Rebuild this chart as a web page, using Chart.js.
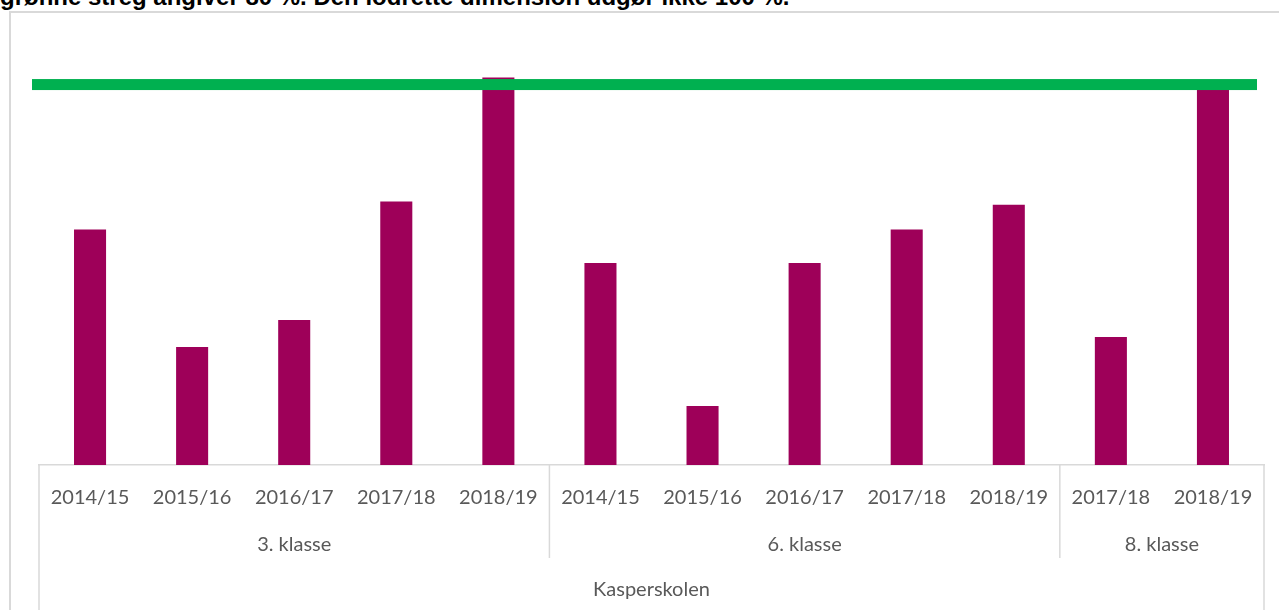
<!DOCTYPE html>
<html>
<head>
<meta charset="utf-8">
<script src="https://cdn.jsdelivr.net/npm/chart.js@4.4.1/dist/chart.umd.min.js"></script>
<style>
  html, body { margin: 0; padding: 0; background: #fff; overflow: hidden; }
  body { width: 1279px; height: 610px; position: relative; }
  #note {
    position: absolute; left: 0; top: -12px;
    font: bold 24px "Liberation Sans", Arial, sans-serif; line-height: 18px;
    color: #000; white-space: nowrap;
  }
  #frame {
    position: absolute; left: 9px; top: 11px; width: 1300px; height: 640px;
    border: 2px solid #d9d9d9; box-sizing: border-box;
  }
  #chart { position: absolute; left: 0; top: 0; }
</style>
</head>
<body>
<div id="frame"></div>
<div id="note">grønne streg angiver 80 %. Den lodrette dimension udgør ikke 100 %.</div>
<canvas id="chart" width="1279" height="610"></canvas>
<script>
const aargange = ['2014/15', '2015/16', '2016/17', '2017/18', '2018/19',
                  '2014/15', '2015/16', '2016/17', '2017/18', '2018/19',
                  '2017/18', '2018/19'];
const andel = [49.5, 24.8, 30.5, 55.4, 81.5, 42.5, 12.4, 42.5, 49.5, 54.7, 26.9, 79.4];
const klasser = ['3. klasse', '6. klasse', '8. klasse'];
const klasseAntal = [5, 5, 2];
const skole = 'Kasperskolen';
const maal = 80;

const tekstFarve = '#595959';
const linjeFarve = '#d9d9d9';

// gruppe-akse under x-aksen (klasse + skole)
const gruppeAkse = {
  id: 'gruppeAkse',
  afterDraw(chart) {
    const { ctx, chartArea, scales: { x } } = chart;
    const step = x.getPixelForValue(1) - x.getPixelForValue(0);
    const bund = chartArea.bottom;
    ctx.save();
    ctx.strokeStyle = linjeFarve;
    ctx.lineWidth = 1.5;
    ctx.fillStyle = tekstFarve;
    ctx.font = '20px Lato';
    ctx.textAlign = 'center';
    ctx.textBaseline = 'middle';

    let start = 0;
    klasser.forEach((navn, i) => {
      const venstre = x.getPixelForValue(start) - step / 2;
      const hoejre = x.getPixelForValue(start + klasseAntal[i] - 1) + step / 2;
      ctx.fillText(navn, (venstre + hoejre) / 2, bund + 80);
      if (i > 0) {
        ctx.beginPath();
        ctx.moveTo(venstre, bund);
        ctx.lineTo(venstre, bund + 93);
        ctx.stroke();
      }
      start += klasseAntal[i];
    });

    const l = x.getPixelForValue(0) - step / 2;
    const r = x.getPixelForValue(aargange.length - 1) + step / 2;
    [l, r].forEach(px => {
      ctx.beginPath();
      ctx.moveTo(px, bund);
      ctx.lineTo(px, chart.height);
      ctx.stroke();
    });
    ctx.fillText(skole, (l + r) / 2, bund + 125);
    ctx.restore();
  }
};

// grøn streg ved 80 %
const maalStreg = {
  id: 'maalStreg',
  afterDatasetsDraw(chart) {
    const { ctx, chartArea, scales: { y } } = chart;
    const py = y.getPixelForValue(maal);
    ctx.save();
    ctx.fillStyle = '#00b050';
    ctx.fillRect(chartArea.left - 7, py - 5.5, chartArea.right - chartArea.left, 11);
    ctx.restore();
  }
};

new Chart(document.getElementById('chart').getContext('2d'), {
  type: 'bar',
  data: {
    labels: aargange,
    datasets: [{
      data: andel,
      backgroundColor: '#9e0059',
      categoryPercentage: 1,
      barPercentage: 0.314
    }]
  },
  options: {
    responsive: false,
    animation: false,
    devicePixelRatio: 1,
    layout: { padding: { left: 39, right: 15, top: 37, bottom: 0 } },
    plugins: { legend: { display: false }, tooltip: { enabled: false } },
    scales: {
      x: {
        grid: { display: false },
        border: { display: true, color: linjeFarve, width: 1.5 },
        ticks: {
          color: tekstFarve, font: { family: 'Lato', size: 20 },
          padding: 13, maxRotation: 0, autoSkip: false
        },
        afterFit(scale) { scale.height = 145; }
      },
      y: { display: false, min: 0, max: 90 }
    }
  },
  plugins: [maalStreg, gruppeAkse]
});
</script>
</body>
</html>
